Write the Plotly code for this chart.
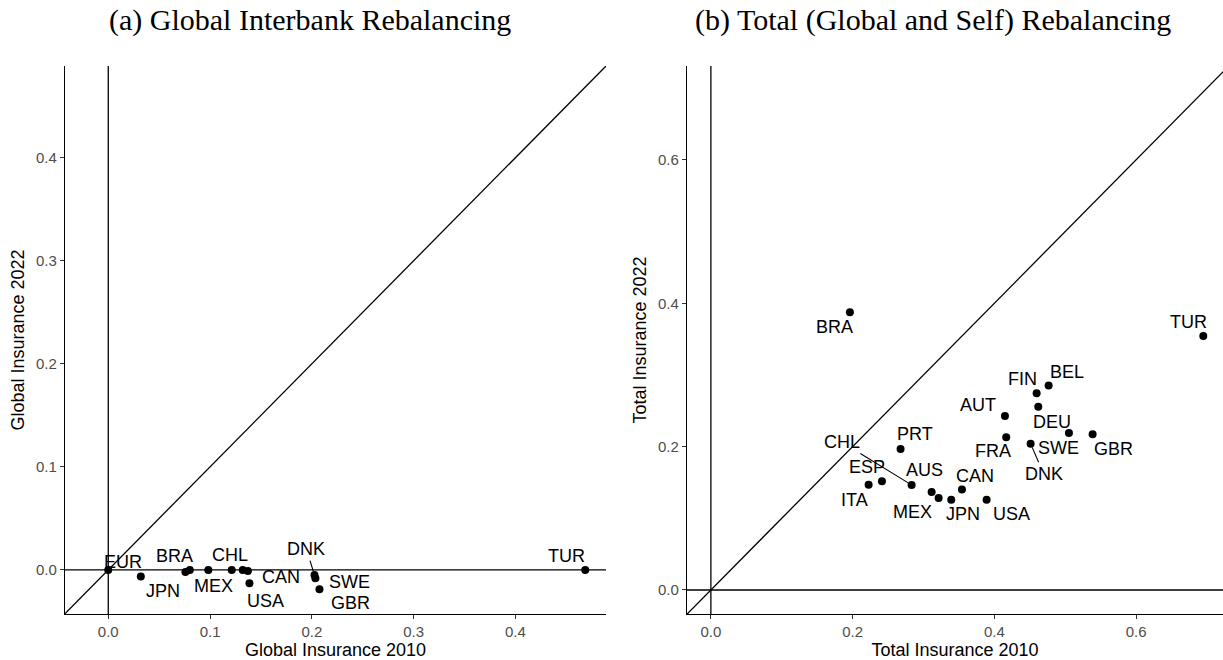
import plotly.graph_objects as go

# ---------------- data ----------------
# (a) Global interbank insurance, 2010 vs 2022 ("" = label dropped by repel)
a_codes = ["EUR", "JPN", "", "BRA", "MEX", "CHL", "", "CAN", "USA", "DNK", "SWE", "GBR", "TUR"]
a_ins2010 = [0.0, 0.032, 0.0758, 0.0801, 0.0983, 0.1213, 0.1321, 0.1372, 0.1387, 0.2026, 0.2035, 0.2075, 0.4686]
a_ins2022 = [0.0, -0.0065, -0.002, 0.0, 0.0, 0.0, 0.0, -0.001, -0.013, -0.005, -0.008, -0.0188, 0.0]

# (b) Total (global and self) insurance, 2010 vs 2022
b_codes = ["BRA", "TUR", "FIN", "BEL", "AUT", "DEU", "FRA", "SWE", "GBR", "DNK",
           "PRT", "CHL", "ESP", "ITA", "AUS", "MEX", "JPN", "CAN", "USA"]
b_ins2010 = [0.1962, 0.6949, 0.4597, 0.4766, 0.4150, 0.4620, 0.4168, 0.5053, 0.5387, 0.4512,
             0.2677, 0.2833, 0.2414, 0.2226, 0.3115, 0.3214, 0.3392, 0.3543, 0.3891]
b_ins2022 = [0.3875, 0.3544, 0.2745, 0.2851, 0.2428, 0.2558, 0.2131, 0.2191, 0.2172, 0.2041,
             0.1967, 0.1465, 0.1517, 0.1469, 0.1366, 0.1282, 0.1258, 0.1403, 0.1258]

a_ticks = [0.0, 0.1, 0.2, 0.3, 0.4]
b_ticks = [0.0, 0.2, 0.4, 0.6]

# ---------------- styling ----------------
W, H = 1223, 660
SANS = "Liberation Sans, Arial, Helvetica, sans-serif"
SERIF = "Liberation Serif, Times New Roman, serif"

a_xrange = [-0.0425, 0.489]
a_yrange = [-0.0428, 0.489]
b_xrange = [-0.0337, 0.7227]
b_yrange = [-0.0335, 0.731]

# label placement (pixel offsets of label centre from its point) and
# whether a repel segment is drawn
a_label_pos = {
    "EUR": (15, -8, False), "JPN": (22, 14, False), "BRA": (-15, -14, False),
    "MEX": (5, 16, False), "CHL": (-2, -15, False), "CAN": (33, 6, False),
    "USA": (16, 18, False), "DNK": (-8, -26, True), "SWE": (34, 4, False),
    "GBR": (31, 14, False), "TUR": (-19, -14, False),
}
b_label_pos = {
    "BRA": (-15, 15, False), "TUR": (-15, -14, False), "FIN": (-14, -14, False),
    "BEL": (18, -14, False), "AUT": (-27, -11, False), "DEU": (14, 15, False),
    "FRA": (-13, 14, False), "SWE": (-10, 15, False), "GBR": (21, 15, False),
    "DNK": (13, 30, True), "PRT": (14, -15, False), "CHL": (-70, -43, True),
    "ESP": (-15, -14, False), "ITA": (-14, 15, False), "AUS": (-7, -22, False),
    "MEX": (-26, 14, False), "JPN": (12, 14, False), "CAN": (13, -13, False),
    "USA": (25, 14, False),
}

fig = go.Figure()

panels = [
    ("x", "y", a_ins2010, a_ins2022, a_codes, a_label_pos, a_xrange, a_yrange),
    ("x2", "y2", b_ins2010, b_ins2022, b_codes, b_label_pos, b_xrange, b_yrange),
]

shapes = []
annotations = []
for xa, ya, xs, ys, codes, lpos, xr, yr in panels:
    # reference lines: zero axes and 45-degree line
    line = dict(color="black", width=1.3)
    shapes.append(dict(type="line", xref=xa, yref=f"{ya} domain", x0=0, x1=0, y0=0, y1=1,
                       line=line, layer="below"))
    shapes.append(dict(type="line", xref=f"{xa} domain", yref=ya, x0=0, x1=1, y0=0, y1=0,
                       line=line, layer="below"))
    lo = min(xr[0], yr[0])
    hi = max(xr[1], yr[1])
    shapes.append(dict(type="line", xref=xa, yref=ya, x0=lo, y0=lo, x1=hi, y1=hi,
                       line=line, layer="below"))

    fig.add_trace(go.Scatter(
        x=xs, y=ys, mode="markers", xaxis=xa, yaxis=ya,
        marker=dict(color="black", size=8, line=dict(width=0)),
        text=codes, hoverinfo="text", showlegend=False,
    ))

    for code, xv, yv in zip(codes, xs, ys):
        if not code:
            continue
        dx, dy, seg = lpos[code]
        annotations.append(dict(
            x=xv, y=yv, xref=xa, yref=ya, text=code, showarrow=True,
            ax=dx, ay=dy, arrowhead=0, arrowwidth=1.1, standoff=4,
            arrowcolor="black" if seg else "rgba(0,0,0,0)",
            font=dict(family=SANS, size=18, color="black"),
        ))

# subfigure captions
annotations.append(dict(text="(a) Global Interbank Rebalancing", x=310 / W, y=1 - 20 / H,
                        xref="paper", yref="paper", showarrow=False, xanchor="center",
                        yanchor="middle", font=dict(family=SERIF, size=30, color="black")))
annotations.append(dict(text="(b) Total (Global and Self) Rebalancing", x=933 / W, y=1 - 20 / H,
                        xref="paper", yref="paper", showarrow=False, xanchor="center",
                        yanchor="middle", font=dict(family=SERIF, size=30, color="black")))

axis_common = dict(
    showline=True, linecolor="black", linewidth=1.2, mirror=False,
    showgrid=False, zeroline=False, ticks="outside", ticklen=4, tickwidth=1,
    tickcolor="#333333", tickfont=dict(family=SANS, size=15, color="#4D4D4D"),
    tickformat=".1f",
)
ydom = [(H - 614) / H, (H - 66) / H]

fig.update_layout(
    width=W, height=H,
    margin=dict(l=0, r=0, t=0, b=0),
    paper_bgcolor="white", plot_bgcolor="white",
    showlegend=False,
    xaxis=dict(axis_common, domain=[65 / W, 606 / W], range=a_xrange, tickvals=a_ticks,
               anchor="y",
               title=dict(text="Global Insurance 2010", standoff=4,
                          font=dict(family=SANS, size=18, color="black"))),
    yaxis=dict(axis_common, domain=ydom, range=a_yrange, tickvals=a_ticks, anchor="x",
               title=dict(text="Global Insurance 2022", standoff=6,
                          font=dict(family=SANS, size=18, color="black"))),
    xaxis2=dict(axis_common, domain=[687 / W, 1.0], range=b_xrange, tickvals=b_ticks,
                anchor="y2",
                title=dict(text="Total Insurance 2010", standoff=4,
                           font=dict(family=SANS, size=18, color="black"))),
    yaxis2=dict(axis_common, domain=ydom, range=b_yrange, tickvals=b_ticks, anchor="x2",
                title=dict(text="Total Insurance 2022", standoff=6,
                           font=dict(family=SANS, size=18, color="black"))),
    shapes=shapes,
    annotations=annotations,
)

fig.write_html("out.html")
